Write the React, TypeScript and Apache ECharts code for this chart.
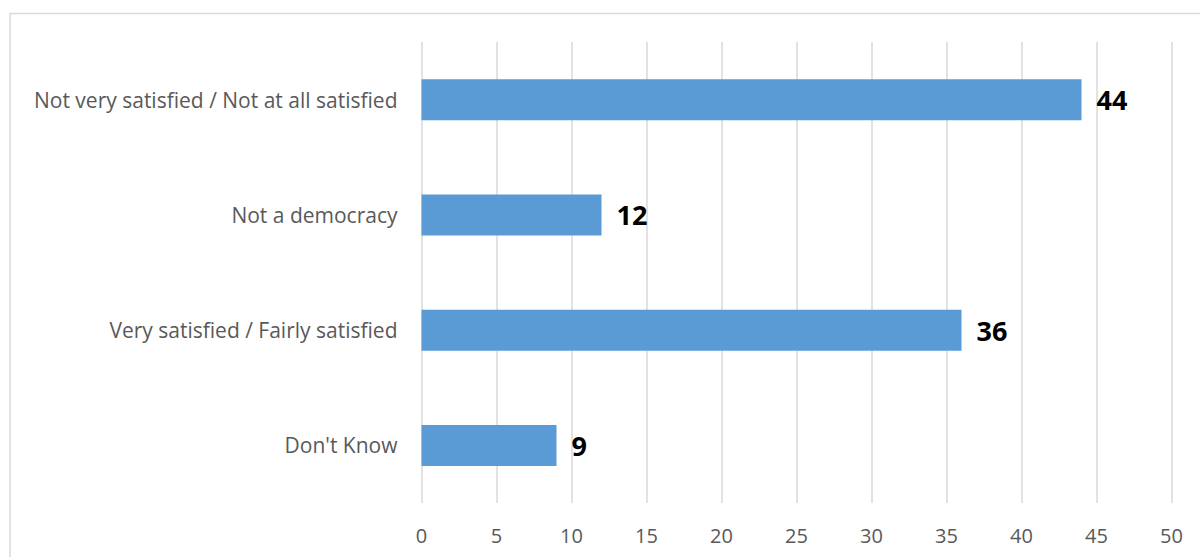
import React, { useEffect, useRef } from "react";
import * as echarts from "echarts";

const categories = [
  "Not very satisfied / Not at all satisfied",
  "Not a democracy",
  "Very satisfied / Fairly satisfied",
  "Don't Know",
];
const values = [44, 12, 36, 9];
const axisMin = 0;
const axisMax = 50;
const axisStep = 5;

export default function App() {
  const ref = useRef<HTMLDivElement>(null);
  useEffect(() => {
    if (!ref.current) return;
    const chart = echarts.init(ref.current, null, { renderer: "svg" });
    chart.setOption({
      animation: false,
      backgroundColor: "#ffffff",
      graphic: [
        {
          type: "rect",
          shape: { x: 10, y: 13.5, width: 1200, height: 600 },
          style: { fill: "none", stroke: "#d9d9d9", lineWidth: 1.5 },
          silent: true,
        },
      ],
      grid: { left: 421.5, right: 28.5, top: 42, bottom: 54, containLabel: false },
      xAxis: {
        type: "value",
        min: axisMin,
        max: axisMax,
        interval: axisStep,
        axisLine: { show: false },
        axisTick: { show: false },
        axisLabel: {
          color: "#595959",
          fontSize: 20,
          fontFamily: "Open Sans",
          margin: 22,
        },
        splitLine: { show: true, lineStyle: { color: "#d9d9d9", width: 1.5 } },
      },
      yAxis: {
        type: "category",
        inverse: true,
        data: categories,
        axisLine: { show: false },
        axisTick: { show: false },
        axisLabel: {
          color: "#595959",
          fontSize: 21,
          fontFamily: "Open Sans",
          margin: 24,
        },
      },
      series: [
        {
          type: "bar",
          data: values,
          barWidth: 41,
          itemStyle: { color: "#5b9bd5" },
          label: {
            show: true,
            position: "right",
            distance: 15,
            color: "#000000",
            fontSize: 27,
            fontWeight: "bold",
            fontFamily: "Open Sans",
          },
        },
      ],
    });
    return () => chart.dispose();
  }, []);
  return (
    <div
      ref={ref}
      style={{ position: "absolute", left: 0, top: 0, width: 1200, height: 557 }}
    />
  );
}
